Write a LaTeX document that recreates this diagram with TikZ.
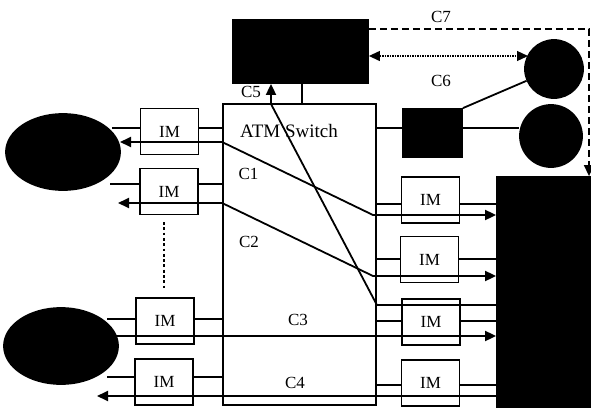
\documentclass[tikz,border=0pt]{standalone}
\usepackage{fontspec}
\setmainfont{Liberation Serif}
\usetikzlibrary{arrows.meta, positioning, calc, shapes.geometric}

\begin{document}
\begin{tikzpicture}[x=1pt, y=-1pt, >={Triangle[length=11pt, width=10pt]}, line width=1.8pt,
    font=\fontsize{17}{19}\selectfont,
    imbox/.style={draw, fill=white, minimum width=58pt, minimum height=46pt, inner sep=0pt},
    blackbox/.style={draw, fill=black, inner sep=0pt},
    blackdisk/.style={circle, draw, fill=black, inner sep=0pt},
    blackoval/.style={ellipse, draw, fill=black, inner sep=0pt, minimum width=114pt, minimum height=76pt},
    lbl/.style={inner sep=0pt}]
    \useasboundingbox (0,0) rectangle (591,407);

    % Switch and attached units
    \node[draw, minimum width=153pt, minimum height=301pt, inner sep=0pt] (sw) at (299.5,254.5) {};
    \node[lbl, font=\fontsize{19}{21}\selectfont] (swlbl) at (289,131) {ATM Switch};
    \node[blackbox, minimum width=135pt, minimum height=63pt] (ctrl) at (300.5,51.5) {};
    \node[blackbox, minimum width=59pt, minimum height=48pt] (sm) at (432.5,133) {};
    \node[blackdisk, minimum size=58pt] (cmp1) at (554,69) {};
    \node[blackdisk, minimum size=62pt] (cmp2) at (551,136) {};
    \node[blackbox, minimum width=94pt, minimum height=230pt] (big) at (544,292) {};

    % End systems
    \node[blackoval] (ell1) at (63,152) {};
    \node[blackoval] (ell2) at (61,346) {};

    % Input lines (drawn under the IM boxes)
    \draw (112,128) -- (sw.west |- 0,128);
    \draw (110,184) -- (sw.west |- 0,184);
    \draw (107,319) -- (sw.west |- 0,319);
    \draw (107,377) -- (sw.west |- 0,377);
    \draw (sw.east |- 0,204) -- (big.west |- 0,204);
    \draw (sw.east |- 0,259) -- (big.west |- 0,259);
    \draw (sw.east |- 0,321) -- (big.west |- 0,321);
    \draw (sw.east |- 0,385) -- (big.west |- 0,385);

    % Interface modules
    \node[imbox] (L1) at (169.5,131.5) {IM};
    \node[imbox] (L2) at (169,191.5) {IM};
    \node[imbox] (L3) at (165,321) {IM};
    \node[imbox] (L4) at (164,382) {IM};
    \node[imbox] (R1) at (430.5,200) {IM};
    \node[imbox] (R2) at (429.5,259.5) {IM};
    \node[imbox] (R3) at (431,322) {IM};
    \node[imbox] (R4) at (430.5,383) {IM};

    % Connections through the switch
    \draw[<->] (120,142) -- (sw.west |- 0,142) -- (373,215) -- (big.west |- 0,215);
    \draw[<->] (118,203) -- (sw.west |- 0,203) -- (373,276) -- (big.west |- 0,276);
    \draw[->] (110,336) -- (big.west |- 0,336);
    \draw[<-] (97,396) -- (big.west |- 0,396);
    \draw[->] (big.west |- 0,305) -- (sw.east |- 0,305) -- (271,104) -- (ctrl.south -| 271,0);
    \draw (sw.north -| 302,0) -- (ctrl.south -| 302,0);
    \draw (sw.east |- 0,128) -- (sm.west |- 0,128);
    \draw (sm.east |- 0,128) -- (cmp2.west |- 0,128);
    \draw (sm.north east) -- (cmp1);
    \draw[<->, line width=1.2pt, dash pattern=on 1.5pt off 1pt] (ctrl.east |- 0,56) -- (528,56);
    \draw[->, line width=1.5pt, dash pattern=on 7pt off 4pt] (ctrl.east |- 0,29) -- (589,29) -- (big.north -| 589,0);
    \draw[line width=2.8pt, dash pattern=on 2.8pt off 2.5pt] (164,222) -- (164,288);

    % Labels
    \node[lbl] (c1) at (248.5,174) {C1};
    \node[lbl] (c2) at (249,242) {C2};
    \node[lbl] (c3) at (298,320) {C3};
    \node[lbl] (c4) at (295,383) {C4};
    \node[lbl] (c5) at (251,92) {C5};
    \node[lbl] (c6) at (441,81) {C6};
    \node[lbl] (c7) at (441,17) {C7};
\end{tikzpicture}
\end{document}
